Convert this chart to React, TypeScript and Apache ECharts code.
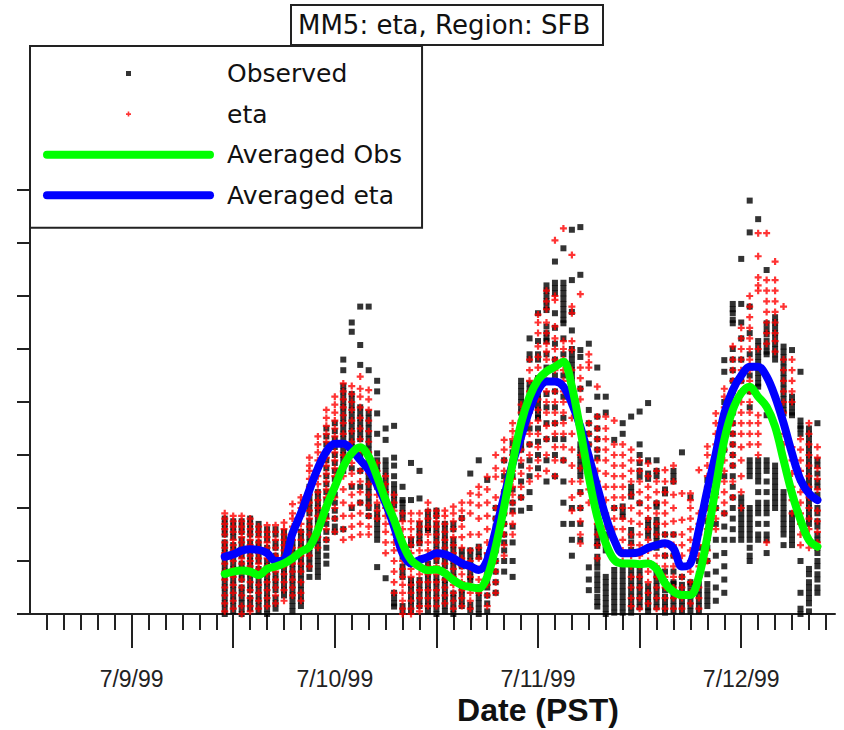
import React, { useEffect, useRef } from "react";
import * as echarts from "echarts";

// Hours after 7/9/99 00:00 PST at which the stations were sampled
const HOURS = [
  11, 12, 13, 14, 15, 16, 17, 18, 19, 20, 21, 22, 23, 24, 25, 26, 27, 28, 29, 30,
  31, 32, 33, 34, 35, 36, 37, 38, 39, 40, 41, 42, 43, 44, 45, 46, 47, 48, 49, 50,
  51, 52, 53, 54, 55, 56, 57, 58, 59, 60, 61, 62, 63, 64, 65, 66, 67, 68, 69, 70,
  71, 72, 73, 74, 75, 76, 77, 78, 79, 80, 81,
];

const DAY_HOURS = [0, 24, 48, 72];
const DAY_LABELS = ["7/9/99", "7/10/99", "7/11/99", "7/12/99"];

// Observed station values, one list per hour (same order as HOURS)
const OBS_BY_HOUR: number[][] = [
  [36, 34, 32, 30, 27, 25, 23, 20, 18, 16, 14, 12, 10, 8, 6, 4, 2, 0],
  [35, 33, 31, 29, 26, 24, 21, 19, 17, 15, 13, 11, 9, 7, 5, 3, 1],
  [35, 33, 31, 28, 26, 24, 22, 19, 17, 15, 13, 10, 8, 6, 4, 2, 0],
  [36, 34, 32, 30, 27, 25, 22, 20, 18, 15, 13, 11, 9, 6, 4, 2],
  [34, 32, 30, 27, 25, 22, 20, 17, 15, 13, 11, 9, 7, 5, 3, 1],
  [32, 30, 28, 25, 23, 20, 18, 16, 14, 12, 10, 8, 6, 4, 2, 0],
  [32, 30, 27, 25, 22, 20, 18, 15, 13, 11, 9, 6, 4, 2],
  [31, 29, 27, 25, 23, 21, 19, 17, 15, 13, 11, 9, 7],
  [27, 25, 23, 21, 19, 17, 15, 13, 11, 9, 7, 5, 3, 1],
  [31, 29, 27, 25, 23, 21, 19, 17, 15, 13, 11, 9, 7, 5, 3],
  [48, 46, 44, 42, 40, 38, 35, 33, 31, 29, 27, 25, 23, 21, 19, 17, 14],
  [46, 44, 42, 40, 38, 36, 34, 32, 30, 28, 26, 24, 22, 20, 18, 16, 14],
  [70, 67, 64, 61, 58, 55, 52, 49, 46, 43, 40, 37, 34, 31, 28, 25, 22, 19],
  [72, 69, 66, 63, 60, 57, 54, 51, 48, 45, 42, 39, 36, 33, 31],
  [96, 92, 86, 84, 82, 80, 78, 76, 74, 72, 70, 68, 66, 64, 62, 60, 58, 56, 54, 32],
  [110, 106.5, 83, 81, 79, 77, 75, 73, 71, 69, 67, 65, 63, 55, 48, 40],
  [116, 101.5, 94, 78, 76, 74, 72, 70, 68, 66, 60, 54, 48, 42],
  [116, 92, 76, 74, 72, 70, 68, 66, 64, 62, 60, 58, 56, 54, 52, 50, 48, 46, 44, 42, 40, 37],
  [88, 84, 75.7, 68, 60.6, 58, 56, 54, 52, 50, 48, 40.5, 38, 36, 34, 32, 30, 28, 17.7],
  [70, 65.7, 58, 56, 54, 52, 50, 48, 46, 44, 43, 13.5],
  [71, 59, 56, 52, 49, 47, 45, 43, 41, 8, 6, 4, 2.8],
  [48, 43, 42, 40, 38, 36, 21.6, 17.9, 16, 14, 3, 1],
  [57, 43, 28, 26, 12.8, 11, 9, 7, 5, 3, 1],
  [54, 43.6, 34, 32, 30, 28, 26.7, 12.8, 11, 9, 7, 5, 3],
  [38.6, 36.5, 34.5, 32.5, 31.7, 19, 17, 15, 13, 11, 9, 7, 5, 3, 1],
  [39, 37, 34, 32, 30, 28, 26, 24, 22, 20, 13.8, 12, 10, 8, 6, 4, 2, 0],
  [34, 32, 30, 28, 26, 24, 22, 20, 18, 12.8, 11, 9, 7, 5, 3, 1],
  [34, 32, 28, 26, 24, 22, 20, 18, 16, 14, 12.8, 7.8, 6, 4, 2, 0],
  [36.2, 24, 22, 20, 18, 9, 7, 5, 3],
  [53, 24, 22, 20, 18, 16, 14, 12.8, 3.5, 1.5],
  [58, 25.4, 23.5, 21.6, 10, 8, 6, 4, 2, 0],
  [50.6, 22, 20, 18, 16, 14, 12, 10, 7, 4, 1],
  [40, 36, 33, 30, 27, 24, 20, 16, 12, 8],
  [58, 52, 46, 42, 38, 34, 30, 27, 24, 20, 16],
  [64.5, 61, 57, 52, 47, 42, 39, 33, 27, 20, 14],
  [88, 86, 84, 82, 80, 78, 76, 70, 68, 66, 64, 62, 56, 50, 44, 39],
  [104, 98, 96, 87, 85, 83, 81, 79, 77, 70, 64, 58, 52, 46, 40],
  [113.5, 103, 98, 96, 89, 87, 85, 83, 81, 79, 77, 75, 74, 70, 65, 60, 55],
  [124, 122, 120, 118, 116, 114.7, 108.5, 106, 104, 103, 98, 93, 88, 83, 78, 72, 66, 58, 50],
  [133, 125, 123, 121, 113.5, 108, 102, 96, 90, 84, 78, 72, 66, 60, 52],
  [138, 125, 123, 121, 119, 117, 115, 113, 111, 109.7, 104, 98, 90, 82, 74, 66, 58, 50, 42, 34],
  [145, 126, 114, 107, 100, 98, 96, 94, 92, 90, 88, 40, 34, 28, 22],
  [146, 128, 99.6, 97, 85, 64, 62, 60, 58, 56, 54, 52, 46, 40, 34, 28],
  [102, 87, 77, 72, 68, 64, 17.6, 13, 9],
  [93, 82, 74.5, 70, 66, 62, 59, 33, 31, 29, 27, 25.7, 21.6, 19.5, 17.5, 15, 13, 11, 9, 6.5, 4.5, 2.8],
  [82, 76, 30, 28, 26, 24, 14, 12, 10, 8, 6, 4, 2, 0],
  [65.7, 40, 16.6, 14.5, 12.5, 10.5, 8.5, 6.5, 4.5, 2.5, 0.5],
  [72, 68, 40.6, 38.6, 36.7, 16.6, 14.5, 12.5, 10.5, 8.5, 6.5, 4.5, 2.5, 0.5],
  [74.5, 48, 46, 44.3, 31.7, 29.5, 27, 24.2, 16.6, 14.5, 12.5, 10.5, 8.5, 6.5, 4.5, 2.5, 0.5],
  [76.4, 64, 60, 57, 54, 51.8, 41.8, 16.6, 14.5, 12.5, 10.5, 8.5, 6.5, 4.5, 2.5],
  [79.6, 58, 53, 51, 35.5, 33.5, 31.5, 29.5, 10.5, 8.5, 6.5, 4.5, 2.5, 1],
  [58, 54, 52, 41.8, 40.5, 35.5, 33.5, 31.5, 29.5, 27.5, 25, 16.6, 14.5, 12.5, 10.5, 8.5, 6.5, 4.5, 2.5],
  [47, 45.5, 30, 22, 16, 12, 9, 6.5, 4.5, 2.5, 0.5],
  [54, 52, 50, 30, 22, 16, 12, 11.3, 9, 7, 5, 3, 1],
  [61, 14, 11, 9, 7, 5, 3, 1],
  [44, 12, 11.3, 9, 7, 5, 3, 1],
  [25, 20, 15, 11.3, 9, 7, 5, 3, 1],
  [50.6, 45, 40, 35, 30, 25, 20, 15, 11.3, 9, 7, 5, 3],
  [58, 52, 46, 40, 34, 28, 22, 16, 10, 5],
  [95.8, 91.4, 80, 72, 62, 52, 38, 33, 28, 23, 18, 13, 8],
  [117, 115, 113.5, 111, 109.7, 100, 96, 92, 88, 84, 80, 76, 72, 68, 64, 60, 56, 52, 48, 44, 40, 36, 32, 28],
  [134, 117, 110, 104, 96, 88, 44, 42, 40, 38, 36, 34, 32, 30, 28],
  [156, 144, 116, 106, 98, 90, 84, 78, 58, 56, 54, 52, 40, 38, 36, 34, 32, 30, 28, 25, 22, 20],
  [149, 103, 101, 99, 97, 95, 93, 91, 89, 87, 85.8, 58, 56, 54, 52, 50, 46, 42, 40, 38, 34, 30, 28],
  [129.8, 109.7, 107.5, 105.5, 103, 101, 99, 98, 75, 58, 56, 54, 50, 46, 42, 40, 38, 34, 30, 28, 23],
  [112, 110, 108, 106, 104, 102, 100, 98, 96, 56, 54, 52, 50, 48, 46, 44, 42, 40],
  [100.9, 99, 97, 95, 93, 91, 89, 87, 85, 83, 81, 79, 77, 75.7, 46, 44, 42, 40, 38, 36, 34, 32, 30, 26],
  [99.6, 82, 80, 78, 76, 75, 38, 36, 34, 32, 30, 28, 26],
  [91.4, 73, 71, 70, 68, 20, 8, 2, 0],
  [70, 68, 66, 64, 62, 60, 58, 56, 54, 52, 50, 48, 46, 44, 42, 40, 38, 36, 34, 17, 15, 12, 10, 8, 6, 4, 1],
  [72, 58, 56, 53, 50, 48, 45, 43, 40, 38, 35, 33, 30, 28, 25, 23, 20, 18, 15, 13, 10, 8],
];

// eta model values at the stations, one list per hour
const ETA_BY_HOUR: number[][] = [
  [38, 36, 34, 32, 30, 27, 25, 23, 21, 19, 16, 13, 10, 7, 4, 1],
  [37, 35, 33, 31, 28, 26, 24, 22, 20, 17, 14, 11, 8, 5, 2],
  [37, 35, 33, 31, 29, 27, 25, 23, 21, 19, 16, 13, 10, 7, 3, 0],
  [36, 34, 32, 30, 28, 26, 24, 22, 20, 18, 15, 12, 9, 6, 3, 1],
  [33, 31, 29, 27, 25, 23, 21, 19, 17, 14, 11, 8, 5, 2],
  [33.5, 31, 29, 27, 25, 23, 21, 18, 15, 12, 9, 6, 3],
  [33.5, 31, 28, 25, 22, 19, 16, 13, 10, 7, 4],
  [34.5, 32, 30, 28, 26, 24, 22, 20, 18, 15, 12, 9, 5],
  [41.5, 38, 36, 33, 30, 28, 25, 22, 19, 16, 13, 10, 7],
  [44, 42, 40, 37, 34, 31, 28, 25, 22, 19, 16, 12, 8, 5],
  [59, 56, 54, 51, 48, 45, 42, 39, 36, 33, 30, 26, 22, 18],
  [67, 64, 61, 58, 55, 52, 49, 46, 43, 40, 37, 33, 29, 25],
  [77, 74, 71, 68, 65, 62, 59, 56, 53, 50, 47, 44, 40, 36, 32, 28],
  [82, 79, 76, 73, 70, 67, 64, 61, 58, 55, 52, 48, 44, 40, 36, 31],
  [87, 84, 81, 78, 75, 72, 68, 64, 60, 56, 52, 47, 42, 37, 32, 28],
  [86, 83, 80, 77, 73, 69, 65, 61, 57, 53, 49, 45, 41, 37, 33, 29],
  [89.6, 85, 82, 78, 74, 70, 66, 62, 58, 54, 50, 46, 42, 38, 34, 30],
  [84.5, 81, 77, 73, 69, 65, 61, 57, 53, 49, 45, 41, 37, 33, 30],
  [57, 54, 51, 48, 45, 42, 39, 36],
  [52, 49, 46, 43, 40, 37, 34, 31, 27, 23],
  [45, 42, 39, 36, 33, 30, 27, 24, 20, 16, 12, 8],
  [38, 35, 32, 29, 26, 23, 20, 17, 14, 11, 8, 5, 2, 0],
  [38, 35, 32, 29, 26, 23, 20, 17, 14, 11, 8, 5, 2, 0],
  [38, 35, 33, 30, 27, 24, 21, 18, 15, 12, 9, 6, 3, 1],
  [42, 39, 36, 33, 30, 27, 24, 21, 18, 15, 12, 9, 6, 3],
  [39, 37, 35, 33, 30, 27, 24, 21, 18, 15, 12, 9, 6, 3],
  [39, 37, 34, 31, 28, 25, 22, 19, 16, 13, 10, 7, 4],
  [40.5, 38, 35, 32, 29, 26, 23, 20, 17, 14, 11, 8, 5, 2],
  [42, 39, 36, 33, 29, 25, 21, 18, 15, 12, 9, 6, 3],
  [45.5, 42, 38, 30, 24, 20, 17, 14, 11, 8, 5, 2],
  [48, 45, 41, 36, 30, 25, 21, 17, 13, 10, 8],
  [51.8, 47, 42, 37, 32, 27, 23, 19, 15, 11, 7, 3],
  [60, 55, 51.8, 44, 40, 36, 32, 28, 24, 20, 16, 12, 8],
  [65.7, 62, 58, 54, 50, 46, 42, 38, 34, 30, 26, 22],
  [72, 69, 66, 63, 60, 57, 54, 51, 48, 45, 42, 38, 34, 30],
  [79, 76, 73, 70, 66, 62, 58, 53, 48, 44],
  [96, 92, 88, 84, 80, 76, 72, 68, 64, 60, 55, 50],
  [113, 110, 106, 101, 97, 93, 89, 85, 81, 77, 73, 68, 63, 58, 52],
  [122, 118, 115, 110, 106, 102, 99, 96, 92, 88, 84, 80, 76, 71, 66, 60, 54],
  [141, 120, 118.5, 108.5, 104, 100, 96, 92, 88, 84, 80, 76, 72, 68, 63, 58, 52],
  [145.5, 103, 100, 96, 92, 88, 84, 80, 76, 72, 68, 63, 58],
  [135.5, 116, 113.5, 103, 99.6, 92, 86, 80, 74, 68, 62, 56, 50, 44, 39],
  [120.7, 93, 89, 85, 81, 60, 55, 50, 45.5, 40, 35, 30, 26.6],
  [98, 95, 93, 72, 68, 64, 60, 56, 52, 47, 42],
  [85.8, 74.5, 70, 66, 62, 58, 54, 50, 46, 42, 38, 34, 30, 26, 21],
  [74.5, 70, 66, 62, 58, 53, 48, 43, 38, 33, 28],
  [73, 64, 60, 56, 52, 48, 44, 40, 36, 32, 28],
  [64, 60, 56, 52, 48, 44, 40, 36, 32, 28, 24, 20],
  [62, 58, 54, 50, 45, 40, 35, 30, 26, 22, 18, 14, 10, 6, 3],
  [58, 54, 50, 46, 42, 38, 34, 30, 26, 22, 18, 14, 10, 6, 2],
  [56.8, 52, 48, 44, 40, 36, 32, 28, 24, 20, 16, 12, 8, 4],
  [54, 50, 46, 42, 38, 34, 30, 26, 22, 18, 14, 10, 6, 2],
  [54.3, 50, 46, 42, 38, 34, 30, 26, 22, 18, 14, 10, 6, 2],
  [56, 50, 45, 40, 35, 30, 26, 22, 18, 14, 10, 6, 2],
  [45.5, 35.5, 30, 26, 22, 18, 14, 10, 6, 2],
  [45.5, 43, 40, 36, 32, 28, 24, 20, 16, 12, 8, 4],
  [54.3, 38, 34, 30, 26, 22, 18, 14, 10, 6, 2],
  [63.2, 60, 56, 52, 48, 44, 40, 36, 32, 28, 24, 20],
  [75.7, 72, 68, 64, 60, 56, 52, 48, 44, 40, 36, 32],
  [85, 82, 78, 74, 70, 66, 62, 58, 54, 50, 46, 42, 38],
  [101, 96, 92, 88, 84, 80, 76, 72, 68, 64, 60, 56, 50, 44],
  [108, 104, 100, 96, 92, 88, 84, 80, 76, 72, 68, 63, 58, 52, 46, 40],
  [120, 116, 112, 108, 104, 100, 96, 92, 88, 84, 80, 76, 72, 68, 64],
  [143.7, 135, 127, 124, 122, 100, 75, 72, 68, 64, 60],
  [143.7, 126, 122, 118, 114, 110, 106, 102, 27],
  [133, 126, 122, 118, 114, 110, 106, 103, 99],
  [116, 96, 92, 88, 84, 80, 76, 72, 68, 64],
  [96, 92, 88, 84, 80, 63, 58, 53, 48, 43, 38],
  [66, 62, 58, 54, 50, 46, 42, 38, 34, 30, 26],
  [72, 68, 64, 60, 56, 52, 48, 44, 40, 36, 32, 28, 25],
  [63, 59, 55, 51, 47, 43, 39, 35, 31, 27, 25],
];

// Averaged curves (one value per hour in HOURS)
const AVG_OBS = [
  15.1, 16.0, 16.4, 16.0, 14.7, 17.0, 17.9, 19.1, 21.0, 23.5,
  25.4, 31.7, 40.5, 48.0, 55.6, 60.7, 62.9, 59.4, 51.8, 43.0,
  35.5, 26.7, 20.4, 17.9, 16.5, 16.8, 15.4, 12.8, 10.9, 10.2,
  9.7, 14.1, 25.4, 40.5, 56.9, 72.0, 82.0, 88.3, 91.5, 93.3,
  95.2, 85.8, 69.4, 51.8, 36.7, 26.7, 20.4, 19.1, 19.1, 18.8,
  19.1, 17.0, 11.6, 8.4, 7.2, 7.2, 14.1, 29.2, 48.0, 65.7,
  77.0, 83.3, 85.8, 82.0, 78.2, 70.7, 58.1, 45.5, 35.5, 27.9,
  25.4,
];
const AVG_ETA = [
  21.6, 22.5, 23.9, 24.4, 24.2, 23.0, 20.0, 20.5, 30.4, 38.0,
  46.8, 55.0, 61.3, 64.2, 64.2, 61.9, 58.1, 54.3, 48.7, 41.8,
  33.0, 22.9, 19.1, 20.4, 21.5, 22.9, 22.5, 21.0, 19.1, 18.0,
  16.6, 20.4, 31.7, 44.3, 56.9, 66.9, 77.0, 84.5, 87.7, 87.7,
  85.8, 79.5, 70.7, 59.4, 48.0, 36.7, 27.9, 22.9, 22.9, 23.4,
  25.0, 26.0, 26.7, 24.8, 17.9, 19.1, 31.7, 46.8, 60.6, 75.7,
  84.5, 90.0, 93.3, 93.3, 89.6, 82.0, 72.0, 60.6, 50.6, 45.5,
  43.0,
];

const W = 844;
const H = 730;
const X_LEFT = 30;
const X_MIN = -12;
const PX_PER_HOUR = 8.467;
const AXIS_END_PX = 835;
const X_MAX = X_MIN + (AXIS_END_PX - X_LEFT) / PX_PER_HOUR;
const GRID_TOP = 190;
const GRID_BOTTOM = 116;
const pxOf = (h: number) => X_LEFT + (h - X_MIN) * PX_PER_HOUR;

const AXIS_COLOR = "#222";
const PLUS_SYMBOL = "path://M2.4,0H4.6V2.4H7V4.6H4.6V7H2.4V4.6H0V2.4H2.4Z";
const SQUARE_ICON = "path://M0,0M8,8M1.5,1.5H6.5V6.5H1.5Z";
const PLUS_ICON = "path://M0,0M8,8M3.2,1.5H4.8V3.2H6.5V4.8H4.8V6.5H3.2V4.8H1.5V3.2H3.2Z";
const LINE_ICON = "path://M4,0H167A4,4,0,0,1,167,8H4A4,4,0,0,1,4,0Z";

export default function App() {
  const ref = useRef<HTMLDivElement>(null);

  useEffect(() => {
    if (!ref.current) return;
    const chart = echarts.init(ref.current, null, { renderer: "svg" });

    const obsPoints = HOURS.flatMap((h, i) => OBS_BY_HOUR[i].map((v) => [h, v]));
    const etaPoints = HOURS.flatMap((h, i) => ETA_BY_HOUR[i].map((v) => [h, v]));
    const avgObs = HOURS.map((h, i) => [h, AVG_OBS[i]]);
    const avgEta = HOURS.map((h, i) => [h, AVG_ETA[i]]);

    const axisLineStyle = { color: AXIS_COLOR, width: 2 };
    const gridBase = {
      top: GRID_TOP,
      bottom: GRID_BOTTOM,
      containLabel: false,
      outerBoundsMode: "none",
    };
    const hiddenY = (gridIndex: number) => ({
      gridIndex,
      type: "value",
      show: false,
      min: 0,
      max: 160,
    });

    const option: any = {
      animation: false,
      backgroundColor: "#ffffff",
      title: {
        text: "MM5: eta, Region: SFB",
        left: 291,
        top: 5,
        padding: [5, 13, 5, 7],
        borderColor: AXIS_COLOR,
        borderWidth: 2,
        backgroundColor: "#ffffff",
        z: 12,
        textStyle: {
          fontFamily: "DejaVu Sans",
          fontSize: 26,
          fontWeight: "normal",
          color: "#111",
          lineHeight: 30,
        },
      },
      legend: {
        show: true,
        orient: "vertical",
        left: 30,
        top: 46,
        padding: [15, 20, 20, 13],
        itemWidth: 171,
        itemHeight: 8,
        itemGap: 15.6,
        backgroundColor: "#ffffff",
        borderColor: AXIS_COLOR,
        borderWidth: 2,
        borderRadius: 0,
        selectedMode: false,
        z: 10,
        itemStyle: { borderWidth: 0 },
        textStyle: {
          fontFamily: "DejaVu Sans",
          fontSize: 25,
          color: "#111",
          lineHeight: 25,
          padding: [0, 0, 0, 8],
        },
        data: [
          { name: "Observed", icon: SQUARE_ICON },
          { name: "eta", icon: PLUS_ICON },
          { name: "Averaged Obs", icon: LINE_ICON },
          { name: "Averaged eta", icon: LINE_ICON },
        ],
      },
      grid: [
        { ...gridBase, left: X_LEFT, right: W - AXIS_END_PX },
        { ...gridBase, left: pxOf(-10), right: W - pxOf(82) },
        { ...gridBase, left: pxOf(0), right: W - pxOf(72) },
      ],
      xAxis: [
        {
          gridIndex: 0,
          type: "value",
          min: X_MIN,
          max: X_MAX,
          axisLine: { show: true, onZero: false, lineStyle: axisLineStyle },
          axisTick: { show: false },
          axisLabel: { show: false },
          splitLine: { show: false },
          name: "Date (PST)",
          nameLocation: "middle",
          nameGap: 80,
          nameTextStyle: {
            fontFamily: "Liberation Sans",
            fontSize: 32,
            fontWeight: "bold",
            color: "#111",
            padding: [0, 0, 0, 2 * (538 - (X_LEFT + AXIS_END_PX) / 2)],
          },
        },
        {
          gridIndex: 1,
          type: "value",
          min: -10,
          max: 82,
          interval: 2,
          axisLine: { show: false, onZero: false },
          axisTick: { show: true, length: 16, lineStyle: axisLineStyle },
          axisLabel: { show: false },
          splitLine: { show: false },
        },
        {
          gridIndex: 2,
          type: "value",
          min: 0,
          max: 72,
          interval: 12,
          axisLine: { show: false, onZero: false },
          axisTick: { show: true, length: 34, lineStyle: axisLineStyle },
          axisLabel: {
            show: true,
            margin: 53,
            fontFamily: "Liberation Sans",
            fontSize: 23,
            color: "#222",
            formatter: (v: number) => {
              const i = DAY_HOURS.indexOf(v);
              return i >= 0 ? DAY_LABELS[i] : "";
            },
          },
          splitLine: { show: false },
        },
      ],
      yAxis: [
        {
          gridIndex: 0,
          type: "value",
          min: 0,
          max: 160,
          interval: 20,
          axisLine: { show: true, onZero: false, lineStyle: axisLineStyle },
          axisTick: { show: true, length: 13, lineStyle: axisLineStyle },
          axisLabel: { show: false },
          splitLine: { show: false },
        },
        hiddenY(1),
        hiddenY(2),
      ],
      series: [
        {
          name: "Observed",
          type: "scatter",
          xAxisIndex: 0,
          yAxisIndex: 0,
          data: obsPoints,
          symbol: "rect",
          symbolSize: 6,
          large: false,
          progressive: 0,
          itemStyle: { color: "#000000" },
          z: 2,
        },
        {
          name: "eta",
          type: "scatter",
          xAxisIndex: 0,
          yAxisIndex: 0,
          data: etaPoints,
          symbol: PLUS_SYMBOL,
          symbolSize: 7,
          large: false,
          progressive: 0,
          itemStyle: { color: "#ff0000" },
          z: 3,
        },
        {
          name: "Averaged eta",
          type: "line",
          xAxisIndex: 0,
          yAxisIndex: 0,
          data: avgEta,
          showSymbol: false,
          symbol: "none",
          smooth: 0.35,
          lineStyle: { color: "#0000ff", width: 8, cap: "round", join: "round" },
          itemStyle: { color: "#0000ff" },
          z: 4,
        },
        {
          name: "Averaged Obs",
          type: "line",
          xAxisIndex: 0,
          yAxisIndex: 0,
          data: avgObs,
          showSymbol: false,
          symbol: "none",
          smooth: 0.35,
          lineStyle: { color: "#00ff00", width: 8, cap: "round", join: "round" },
          itemStyle: { color: "#00ff00" },
          z: 5,
        },
      ],
    };

    chart.setOption(option);
    return () => chart.dispose();
  }, []);

  return (
    <div
      ref={ref}
      style={{ position: "fixed", left: 0, top: 0, width: W, height: H, background: "#fff" }}
    />
  );
}
